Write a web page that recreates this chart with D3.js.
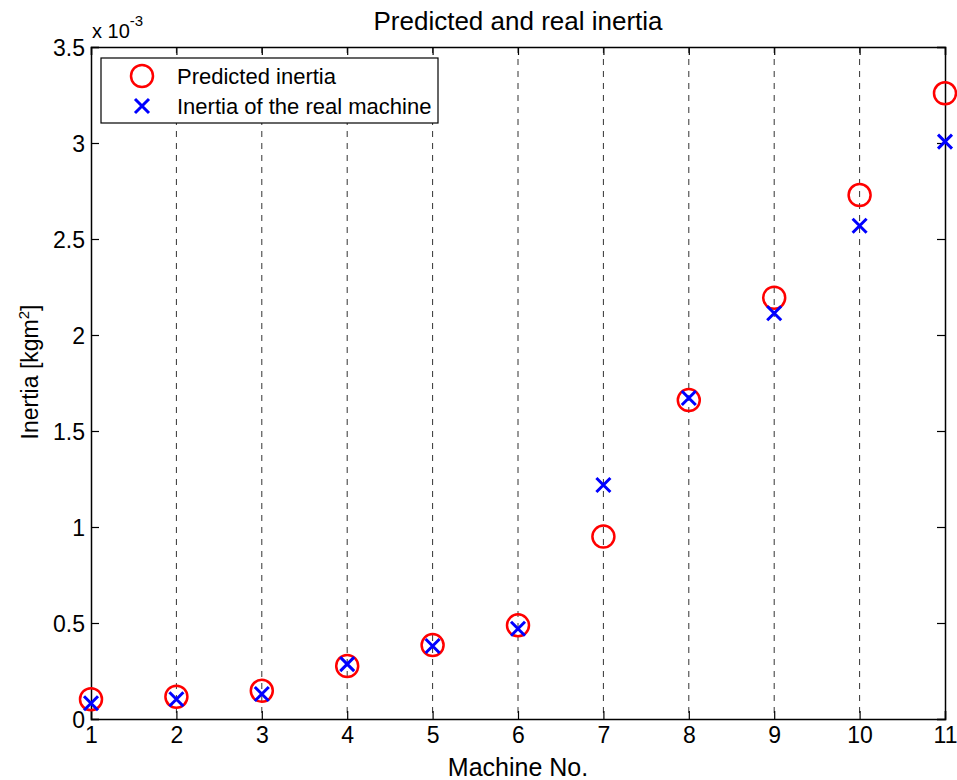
<!DOCTYPE html>
<html>
<head>
<meta charset="utf-8">
<script src="https://cdn.jsdelivr.net/npm/d3@7"></script>
<style>
  body { margin: 0; background: #fff; }
  svg { font-family: "Liberation Sans", Arial, sans-serif; }
</style>
</head>
<body>
<script>
// Données (inertie en 1e-3 kgm^2)
const machines = [1, 2, 3, 4, 5, 6, 7, 8, 9, 10, 11];
const predicted = [0.103, 0.116, 0.147, 0.276, 0.385, 0.488, 0.95, 1.661, 2.194, 2.729, 3.259];
const real = [0.082, 0.103, 0.13, 0.286, 0.38, 0.47, 1.219, 1.672, 2.113, 2.569, 3.007];
const yTicks = [0, 0.5, 1, 1.5, 2, 2.5, 3, 3.5];
const seriesNames = ["Predicted inertia", "Inertia of the real machine"];

const W = 957, H = 780;
const margin = {top: 47, right: 12, bottom: 61, left: 91};
const width = W - margin.left - margin.right;
const height = H - margin.top - margin.bottom;

const svg = d3.select("body").append("svg")
    .attr("width", W).attr("height", H);

const g = svg.append("g")
    .attr("transform", `translate(${margin.left},${margin.top})`);

const x = d3.scaleLinear().domain([1, 11]).range([0, width]);
const y = d3.scaleLinear().domain([0, 3.5]).range([height, 0]);

// grille verticale pointillée
g.append("g").selectAll("line")
    .data(machines.slice(1, -1))
    .join("line")
    .attr("x1", d => x(d)).attr("x2", d => x(d))
    .attr("y1", 0).attr("y2", height)
    .attr("stroke", "#333")
    .attr("stroke-width", 1)
    .attr("stroke-dasharray", "6,6");

// axes avec graduations vers l'intérieur
const fmt = d => String(d);
const axB = g.append("g").attr("transform", `translate(0,${height})`)
    .call(d3.axisBottom(x).tickValues(machines).tickSize(-8).tickPadding(8).tickFormat(fmt));
const axT = g.append("g")
    .call(d3.axisTop(x).tickValues(machines).tickSize(-8).tickFormat(""));
const axL = g.append("g")
    .call(d3.axisLeft(y).tickValues(yTicks).tickSize(-8).tickPadding(6).tickFormat(fmt));
const axR = g.append("g").attr("transform", `translate(${width},0)`)
    .call(d3.axisRight(y).tickValues(yTicks).tickSize(-8).tickFormat(""));

[axB, axT, axL, axR].forEach(a => {
    a.attr("font-family", null).attr("font-size", null);
    a.select(".domain").attr("stroke", "#000").attr("stroke-width", 1.5);
    a.selectAll(".tick line").attr("stroke", "#000").attr("stroke-width", 1.2);
    a.selectAll("text").attr("fill", "#000").style("font-size", "23px");
});
axL.selectAll("text").attr("dy", "0.35em");
axB.selectAll("text").attr("dy", "0.71em");

// cercles : inertie prédite
g.append("g").selectAll("circle")
    .data(machines)
    .join("circle")
    .attr("cx", d => x(d))
    .attr("cy", (d, i) => y(predicted[i]))
    .attr("r", 11)
    .attr("fill", "none")
    .attr("stroke", "#ff0000")
    .attr("stroke-width", 2.5);

// croix : machine réelle
const cross = (cx, cy, s) => `M${cx - s},${cy - s}L${cx + s},${cy + s}M${cx - s},${cy + s}L${cx + s},${cy - s}`;
g.append("g").selectAll("path")
    .data(machines)
    .join("path")
    .attr("d", (d, i) => cross(x(d), y(real[i]), 7))
    .attr("stroke", "#0000ff")
    .attr("stroke-width", 3)
    .attr("fill", "none");

// titre et libellés
svg.append("text")
    .attr("x", margin.left + width / 2).attr("y", 30)
    .attr("text-anchor", "middle")
    .style("font-size", "26px")
    .text("Predicted and real inertia");

svg.append("text")
    .attr("x", margin.left + width / 2).attr("y", 776)
    .attr("text-anchor", "middle")
    .style("font-size", "25px")
    .text("Machine No.");

const yl = svg.append("text")
    .attr("transform", "translate(38,372) rotate(-90)")
    .attr("text-anchor", "middle")
    .style("font-size", "23px");
yl.append("tspan").text("Inertia [kgm");
yl.append("tspan").attr("dy", -9).style("font-size", "15px").text("2");
yl.append("tspan").attr("dy", 9).text("]");

const exp = svg.append("text")
    .attr("x", 92).attr("y", 38)
    .style("font-size", "20px");
exp.append("tspan").text("x 10");
exp.append("tspan").attr("dy", -12).style("font-size", "15px").text("-3");

// légende
const legend = svg.append("g").attr("transform", "translate(101,58)");
legend.append("rect")
    .attr("width", 337).attr("height", 65)
    .attr("fill", "#fff").attr("stroke", "#000").attr("stroke-width", 1.2);
legend.append("circle")
    .attr("cx", 41).attr("cy", 18).attr("r", 11)
    .attr("fill", "none").attr("stroke", "#ff0000").attr("stroke-width", 2.5);
legend.append("path")
    .attr("d", cross(41, 48, 7))
    .attr("stroke", "#0000ff").attr("stroke-width", 3);
legend.selectAll(".lt")
    .data(seriesNames)
    .join("text")
    .attr("x", 76).attr("y", (d, i) => 18 + i * 30)
    .attr("dy", "0.35em")
    .style("font-size", "22px")
    .text(d => d);
</script>
</body>
</html>
